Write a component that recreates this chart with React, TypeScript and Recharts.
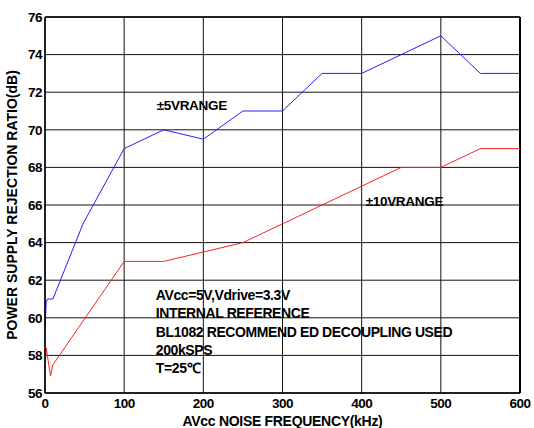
import { LineChart, Line, XAxis, YAxis, CartesianGrid, ReferenceDot, ReferenceLine } from 'recharts'

// PSRR vs AVcc noise frequency, two input ranges
const range5Freq = [0, 1.5, 3, 10, 48, 100, 150, 200, 250, 300, 350, 400, 450, 500, 550, 600]
const range5Db = [59.4, 60.8, 61, 61, 65, 69, 70, 69.5, 71, 71, 73, 73, 74, 75, 73, 73]

const range10Freq = [0, 1.5, 7, 10, 100, 150, 200, 250, 300, 350, 400, 450, 500, 550, 600]
const range10Db = [57.3, 58.4, 56.9, 57.5, 63, 63, 63.5, 64, 65, 66, 67, 68, 68, 69, 69]

const xTicks = [0, 100, 200, 300, 400, 500, 600]
const yTicks = [56, 58, 60, 62, 64, 66, 68, 70, 72, 74, 76]

const noteLines = [
  'AVcc=5V,Vdrive=3.3V',
  'INTERNAL REFERENCE',
  'BL1082 RECOMMEND ED DECOUPLING USED',
  '200kSPS',
  'T=25\u2103',
]
const noteX = 140
const noteY = [61.2, 60.25, 59.25, 58.3, 57.35]

const FONT = '"Liberation Sans", Arial, sans-serif'

const toPoints = (xs: number[], ys: number[]) => xs.map((f, i) => ({ f, db: ys[i] }))

const textLabel = (value: string, size = 14, spacing = -0.4) => ({
  value,
  position: 'right' as const,
  offset: 0,
  fill: '#000',
  style: { fontFamily: FONT, fontWeight: 700, fontSize: size, letterSpacing: spacing },
})

export default function App() {
  const tickStyle = { fontFamily: FONT, fontWeight: 700, fontSize: 13.5, letterSpacing: -0.5, fill: '#000' }
  return (
    <div style={{ position: 'absolute', left: 0, top: 0, background: '#fff' }}>
      <LineChart width={534} height={428} margin={{ top: 17, right: 14, left: 0, bottom: 0 }}>
        <CartesianGrid stroke="#111" strokeWidth={1} horizontalValues={yTicks} verticalValues={xTicks} />
        <XAxis
          type="number"
          dataKey="f"
          domain={[0, 600]}
          ticks={xTicks}
          height={35}
          tickLine={false}
          tickSize={5}
          tickMargin={0}
          tick={tickStyle}
          axisLine={{ stroke: '#000', strokeWidth: 1.5 }}
          allowDuplicatedCategory={false}
          label={{
            value: 'AVcc NOISE FREQUENCY(kHz)',
            position: 'insideBottom',
            offset: 2,
            fill: '#000',
            style: { fontFamily: FONT, fontWeight: 700, fontSize: 14, letterSpacing: -0.3 },
          }}
        />
        <YAxis
          type="number"
          dataKey="db"
          domain={[56, 76]}
          ticks={yTicks}
          width={45}
          tickLine={false}
          tickSize={3}
          tickMargin={0}
          tick={tickStyle}
          axisLine={{ stroke: '#000', strokeWidth: 1.5 }}
          label={{
            value: 'POWER SUPPLY REJECTION RATIO(dB)',
            angle: -90,
            position: 'insideLeft',
            offset: 12,
            fill: '#000',
            style: { fontFamily: FONT, fontWeight: 700, fontSize: 14, textAnchor: 'middle' },
          }}
        />
        <ReferenceLine x={600} stroke="#000" strokeWidth={2} />
        <ReferenceLine y={76} stroke="#000" strokeWidth={1.5} />
        <Line
          data={toPoints(range5Freq, range5Db)}
          dataKey="db"
          stroke="#2222ff"
          strokeWidth={1}
          dot={false}
          type="linear"
          isAnimationActive={false}
        />
        <Line
          data={toPoints(range10Freq, range10Db)}
          dataKey="db"
          stroke="#ff2222"
          strokeWidth={1}
          dot={false}
          type="linear"
          isAnimationActive={false}
        />
        <ReferenceDot x={141} y={71.3} r={0} fill="none" stroke="none" label={textLabel('\u00b15VRANGE', 13.5, -0.3)} />
        <ReferenceDot x={405} y={66.2} r={0} fill="none" stroke="none" label={textLabel('\u00b110VRANGE', 13.5, -0.3)} />
        {noteLines.map((t, i) => (
          <ReferenceDot key={t} x={noteX} y={noteY[i]} r={0} fill="none" stroke="none" label={textLabel(t)} />
        ))}
      </LineChart>
    </div>
  )
}
